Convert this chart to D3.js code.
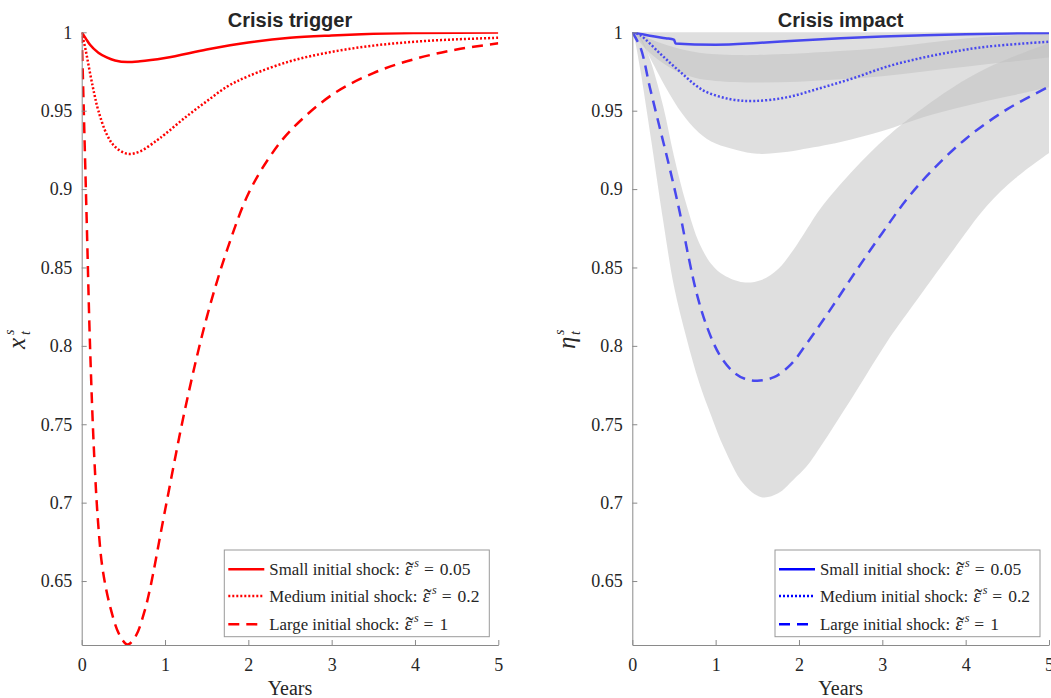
<!DOCTYPE html>
<html>
<head>
<meta charset="utf-8">
<script src="https://cdn.jsdelivr.net/npm/d3@7"></script>
<style>
  body { margin: 0; background: #fff; }
  text { fill: #262626; white-space: pre; }
</style>
</head>
<body>
<svg id="fig" width="1051" height="698"></svg>
<script>
// ---- data -------------------------------------------------------------
const yearTicks = [0, 1, 2, 3, 4, 5];
const levelTicks = [0.65, 0.7, 0.75, 0.8, 0.85, 0.9, 0.95, 1];
const levelDomain = [0.6092, 1];
const panelTitles = ["Crisis trigger", "Crisis impact"];
const shockNames = ["Small initial shock: ", "Medium initial shock: ", "Large initial shock: "];
const shockSizes = ["0.05", "0.2", "1"];

// crisis trigger x_t^s, [years, value]
const triggerSmall = [[0,1],[0.05,0.996],[0.1,0.992],[0.2,0.987],[0.3,0.984],[0.4,0.982],[0.55,0.981],
  [0.7,0.9815],[1,0.9836],[1.5,0.989],[2,0.9935],[2.5,0.9965],[3,0.998],[3.5,0.999],[4,0.9995],[5,0.9998]];
const triggerMedium = [[0,1],[0.05,0.988],[0.1,0.974],[0.15,0.961],[0.2,0.95],[0.3,0.935],[0.4,0.927],
  [0.55,0.9225],[0.7,0.924],[0.9,0.931],[1,0.935],[1.25,0.946],[1.5,0.956],[1.75,0.9655],[2,0.972],
  [2.5,0.9815],[3,0.9875],[3.5,0.9915],[4,0.994],[4.5,0.9955],[5,0.9965]];
const triggerLarge = [[0,1],[0.02,0.96],[0.04,0.92],[0.06,0.88],[0.1,0.8],[0.15,0.73],[0.2,0.685],
  [0.25,0.658],[0.34,0.634],[0.45,0.616],[0.55,0.6095],[0.65,0.615],[0.75,0.63],[0.82,0.645],
  [1,0.695],[1.25,0.762],[1.5,0.818],[1.75,0.862],[2,0.897],[2.25,0.92],[2.5,0.937],[3,0.96],
  [3.5,0.974],[4,0.983],[4.5,0.989],[5,0.993]];

// crisis impact eta_t^s, [years, value]
const impactSmall = [[0,1],[0.1,0.999],[0.25,0.9975],[0.4,0.9962],[0.5,0.9953],[0.52,0.9928],[0.75,0.9922],
  [1,0.9921],[1.5,0.9932],[2,0.9948],[2.5,0.9962],[3,0.9973],[3.5,0.9981],[4,0.9988],[4.5,0.9993],[5,0.9996]];
const impactMedium = [[0,1],[0.1,0.998],[0.33,0.9866],[0.57,0.975],[0.85,0.963],[1.18,0.9573],[1.46,0.9562],
  [1.85,0.9585],[2.25,0.9643],[2.65,0.9707],[3.05,0.978],[3.45,0.9834],[3.85,0.9876],[4.25,0.9908],[5,0.994]];
const impactLarge = [[0,1],[0.1,0.99],[0.21,0.965],[0.33,0.939],[0.45,0.913],[0.57,0.885],[0.67,0.858],
  [0.77,0.834],[0.89,0.813],[1.05,0.794],[1.21,0.7835],[1.35,0.779],[1.5,0.7778],[1.7,0.78],[1.9,0.788],
  [2.1,0.802],[2.4,0.825],[2.7,0.849],[3,0.872],[3.3,0.894],[3.6,0.912],[4,0.932],[4.5,0.951],[5,0.9653]];

// bands around the impact paths, [years, lower, upper]
const bandSmall = [[0,1,1],[0.1,0.993,1.002],[0.25,0.985,1.003],[0.5,0.976,1.003],[0.75,0.971,1.003],
  [1,0.969,1.003],[1.5,0.968,1.003],[2,0.9685,1.003],[2.5,0.97,1.003],[3,0.972,1.003],[3.5,0.975,1.003],
  [4,0.978,1.003],[4.5,0.981,1.003],[5,0.984,1.003]];
const bandMedium = [[0,1,1],[0.1,0.995,0.999],[0.2,0.985,0.996],[0.4,0.965,0.992],[0.6,0.948,0.989],
  [0.8,0.936,0.987],[1,0.929,0.986],[1.25,0.925,0.9855],[1.5,0.9225,0.9855],[1.75,0.9232,0.986],
  [2,0.925,0.9865],[2.5,0.93,0.988],[3,0.937,0.99],[3.5,0.946,0.993],[4,0.953,0.996],[4.5,0.959,0.998],
  [5,0.965,0.999]];
const bandLarge = [[0,1,1],[0.03,0.995,0.9995],[0.1,0.975,0.997],[0.13,0.965,0.994],[0.23,0.93,0.98],
  [0.37,0.88,0.953],[0.5,0.838,0.921],[0.65,0.805,0.89],[0.8,0.777,0.866],[0.95,0.755,0.852],
  [1.1,0.735,0.845],[1.33,0.7124,0.8405],[1.55,0.7035,0.842],[1.75,0.706,0.849],[1.93,0.7145,0.861],
  [2.09,0.723,0.874],[2.25,0.735,0.887],[2.65,0.768,0.912],[3.05,0.802,0.933],[3.37,0.826,0.947],
  [3.85,0.861,0.965],[4.25,0.889,0.977],[4.6,0.907,0.985],[5,0.923,0.993]];

// ---- layout -----------------------------------------------------------
const svg = d3.select("#fig");
const plotTop = 32.3, plotBottom = 645;
const panels = [
  { x0: 81.7, x1: 498.3, color: "#ff0000", legendColor: "#ff0000",
    series: [triggerSmall, triggerMedium, triggerLarge], bands: [], sym: "x", labelX: 25 },
  { x0: 632.3, x1: 1049, color: "#4848ee", legendColor: "#0000ff",
    series: [impactSmall, impactMedium, impactLarge], bands: [bandSmall, bandMedium, bandLarge], sym: "η", labelX: 575 }
];
const styles = [
  { dash: null, width: 2.5, curve: d3.curveMonotoneX },
  { dash: "2,2", width: 2.5, curve: d3.curveCatmullRom.alpha(0.5) },
  { dash: "11,7", width: 2.5, curve: d3.curveCatmullRom.alpha(0.5) }
];
const serif = "'Liberation Serif', 'Times New Roman', serif";

// width of a string in a given font, via a throwaway text node
function textWidth(str, size, italic) {
  const t = svg.append("text").attr("font-family", serif).attr("font-size", size)
    .attr("font-style", italic ? "italic" : "normal").text(str);
  const w = t.node().getComputedTextLength();
  t.remove();
  return w;
}

const y = d3.scaleLinear().domain(levelDomain).range([plotBottom, plotTop]);

panels.forEach((p, i) => {
  const x = d3.scaleLinear().domain([0, 5]).range([p.x0, p.x1]);
  const g = svg.append("g");

  g.append("clipPath").attr("id", "clip" + i)
    .append("rect").attr("x", p.x0).attr("y", plotTop).attr("width", p.x1 - p.x0).attr("height", plotBottom - plotTop);
  const plot = g.append("g").attr("clip-path", `url(#clip${i})`);

  // shaded bands
  const area = d3.area().x(d => x(d[0])).y0(d => y(d[1])).y1(d => y(d[2]))
    .curve(d3.curveCatmullRom.alpha(0.5));
  p.bands.forEach(b => {
    plot.append("path").attr("d", area(b))
      .attr("fill", "rgb(191,191,191)").attr("fill-opacity", 0.5);
  });

  // paths
  p.series.forEach((s, k) => {
    const line = d3.line().x(d => x(d[0])).y(d => y(d[1])).curve(styles[k].curve);
    plot.append("path").attr("d", line(s))
      .attr("fill", "none").attr("stroke", p.color)
      .attr("stroke-width", styles[k].width)
      .attr("stroke-dasharray", styles[k].dash)
      .attr("stroke-linejoin", "round");
  });

  // axes
  const xAxis = d3.axisBottom(x).tickValues(yearTicks).tickSize(-5).tickSizeOuter(0).tickPadding(13.5)
    .tickFormat(d3.format("d"));
  const yAxis = d3.axisLeft(y).tickValues(levelTicks).tickSize(-5).tickSizeOuter(0).tickPadding(9.5)
    .tickFormat(d => String(+d.toFixed(2)));
  const gx = g.append("g").attr("transform", `translate(0,${plotBottom})`).call(xAxis);
  const gy = g.append("g").attr("transform", `translate(${p.x0},0)`).call(yAxis);
  [gx, gy].forEach(a => {
    a.select(".domain").attr("stroke", "#8a8a8a").attr("stroke-width", 1);
    a.selectAll(".tick line").attr("stroke", "#8a8a8a");
    a.selectAll(".tick text").attr("font-family", serif).attr("font-size", 18).attr("fill", "#262626");
  });

  // title
  g.append("text").attr("x", (p.x0 + p.x1) / 2).attr("y", 26.5)
    .attr("text-anchor", "middle").attr("font-family", "'Liberation Sans', Arial, sans-serif")
    .attr("font-weight", "bold").attr("font-size", 20).text(panelTitles[i]);

  // x label
  g.append("text").attr("x", (p.x0 + p.x1) / 2).attr("y", 695)
    .attr("text-anchor", "middle").attr("font-family", serif).attr("font-size", 20).text("Years");

  // y label: symbol with stacked super/subscript in one text element
  const yl = g.append("text").attr("transform", `translate(${p.labelX},340) rotate(-90)`)
    .attr("x", -9).attr("y", 0)
    .attr("font-family", serif).attr("font-style", "italic").attr("font-size", 25);
  yl.append("tspan").text(p.sym);
  yl.append("tspan").attr("x", 5).attr("dy", -11).attr("font-size", 14).text("s");
  yl.append("tspan").attr("x", 5).attr("dy", 16).attr("font-size", 14).text("t");

  // legend
  const lx = p.x1 - 274, ly = 550, lw = 265, lh = 86.7;
  const lg = g.append("g").attr("transform", `translate(${lx},${ly})`);
  lg.append("rect").attr("width", lw).attr("height", lh).attr("fill", "#fff")
    .attr("stroke", "#9a9a9a").attr("stroke-width", 1);
  const epsW = textWidth("ε", 19, true);
  const tilW = textWidth("˜", 24, false);
  const rows = [19.3, 46, 74.3];
  rows.forEach((ry, k) => {
    lg.append("line").attr("x1", 4).attr("x2", 40).attr("y1", ry).attr("y2", ry)
      .attr("stroke", p.legendColor).attr("stroke-width", 2.5)
      .attr("stroke-dasharray", styles[k].dash);
    const t = lg.append("text").attr("x", 45).attr("y", ry + 5.5)
      .attr("font-family", serif).attr("font-size", 16.8);
    t.append("tspan").text(shockNames[k]);
    t.append("tspan").attr("dx", 1).attr("font-size", 19).attr("font-style", "italic").text("ε");
    // wide tilde centred over the epsilon
    t.append("tspan").attr("dx", -(epsW + tilW) / 2 + 1).attr("dy", 3.5)
      .attr("font-size", 24).text("˜");
    t.append("tspan").attr("dx", 0.5).attr("dy", -11)
      .attr("font-size", 12).attr("font-style", "italic").text("s");
    t.append("tspan").attr("dx", 5).attr("dy", 7.5).attr("font-size", 17.5).text("=");
    t.append("tspan").attr("dx", 6).attr("font-size", 17.5).text(shockSizes[k]);
  });
});
</script>
</body>
</html>
